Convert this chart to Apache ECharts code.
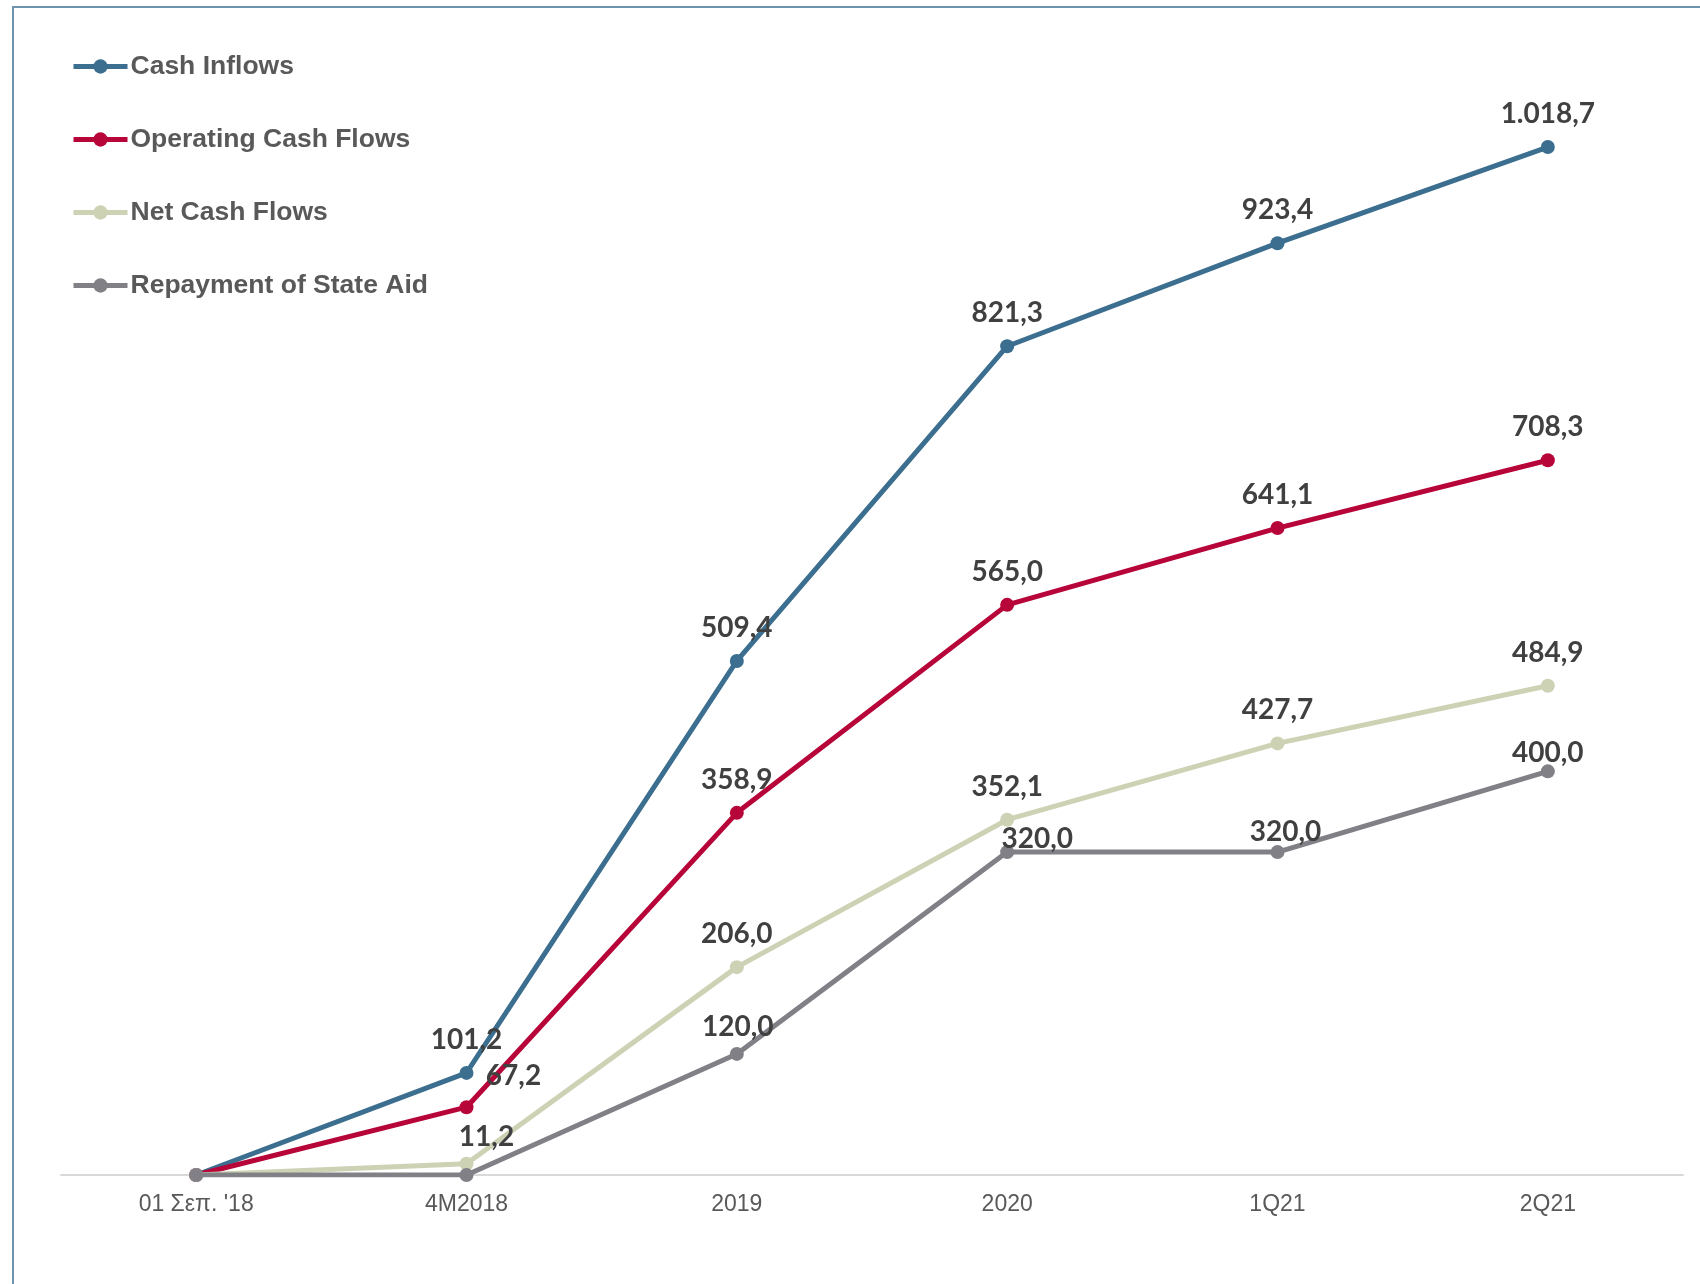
<!DOCTYPE html>
<html>
<head>
<meta charset="utf-8">
<script src="https://cdn.jsdelivr.net/npm/echarts@6/dist/echarts.min.js"></script>
<style>
html,body{margin:0;padding:0;background:#fff;}
#chart{width:1700px;height:1284px;}
</style>
</head>
<body>
<div id="chart"></div>
<script>
const categories = ["01 Σεπ. '18", "4M2018", "2019", "2020", "1Q21", "2Q21"];
const seriesNames = ["Cash Inflows", "Operating Cash Flows", "Net Cash Flows", "Repayment of State Aid"];
const cashInflows = [0, 101.2, 509.4, 821.3, 923.4, 1018.7];
const operatingCashFlows = [0, 67.2, 358.9, 565.0, 641.1, 708.3];
const netCashFlows = [0, 11.2, 206.0, 352.1, 427.7, 484.9];
const repaymentStateAid = [0, 0, 120.0, 320.0, 320.0, 400.0];

const colors = ["#3B6E8F", "#B7053A", "#CDD2B4", "#808086"];
// label nudges [dx, dy] relative to default top placement (series index - data index)
const labelNudges = {
  "1-1": [47, 2],
  "2-1": [20, 6],
  "3-2": [1, 6],
  "3-3": [30, 20],
  "3-4": [8, 13],
  "3-5": [0, 15]
};

function fmt(v) {
  if (!v) return '';
  const parts = v.toFixed(1).split('.');
  const intPart = parts[0].replace(/\B(?=(\d{3})+(?!\d))/g, '.');
  return intPart + ',' + parts[1];
}

const allValues = [cashInflows, operatingCashFlows, netCashFlows, repaymentStateAid];

const series = allValues.map((vals, si) => ({
  name: seriesNames[si],
  type: 'line',
  symbol: 'circle',
  symbolSize: 14,
  z: 2 + si,
  lineStyle: { width: 5, color: colors[si] },
  itemStyle: { color: colors[si] },
  label: {
    show: true,
    position: 'top',
    distance: 12,
    fontFamily: 'Lato',
    fontWeight: 'bold',
    fontSize: 28,
    color: '#404040',
    formatter: p => fmt(p.value)
  },
  data: vals.map((v, di) => {
    const n = labelNudges[si + '-' + di];
    return n ? { value: v, label: { offset: n } } : v;
  })
}));

const chart = echarts.init(document.getElementById('chart'), null, { renderer: 'canvas' });
chart.setOption({
  backgroundColor: '#ffffff',
  animation: false,
  graphic: [{
    type: 'rect',
    shape: { x: 13, y: 7, width: 1720, height: 1320 },
    style: { fill: 'none', stroke: '#6E93AE', lineWidth: 2 },
    silent: true,
    z: 0
  }],
  legend: {
    orient: 'vertical',
    left: 71,
    top: 53,
    padding: 0,
    itemWidth: 54,
    itemHeight: 18,
    itemGap: 46,
    lineStyle: { width: 5 },
    textStyle: { fontFamily: 'Liberation Sans', fontWeight: 'bold', fontSize: 26.5, color: '#595959', padding: [0, 0, 0, -2] },
    data: seriesNames
  },
  grid: { left: 61, right: 17, top: 65, bottom: 109 },
  xAxis: {
    type: 'category',
    data: categories,
    boundaryGap: true,
    axisLine: { lineStyle: { color: '#D9D9D9', width: 2 } },
    axisTick: { show: false },
    axisLabel: { fontFamily: 'Liberation Sans', fontSize: 23, color: '#595959', margin: 18 },
    splitLine: { show: false }
  },
  yAxis: {
    type: 'value',
    min: 0,
    max: 1100,
    show: false,
    splitLine: { show: false }
  },
  series: series
});
</script>
</body>
</html>
